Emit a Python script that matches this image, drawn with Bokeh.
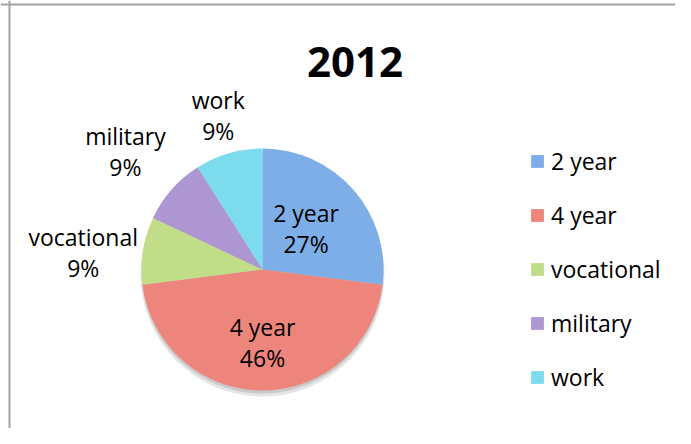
import numpy as np
from bokeh.plotting import figure
from bokeh.models import ColumnDataSource, Legend, LegendItem, Span
from bokeh.core.properties import value
from bokeh.embed import file_html
from bokeh.resources import INLINE

# ---- data ----
title_text = "2012"
categories = ["2 year", "4 year", "vocational", "military", "work"]
percents = [27, 46, 9, 9, 9]
pct_labels = ["27%", "46%", "9%", "9%", "9%"]
colors = ["#7eaee8", "#ee857c", "#c2dd88", "#ae96d2", "#7ddbee"]

# ---- layout / style ----
W, H = 675, 428
cx, cy, R = 262, 159, 121
label_r = [0.48, 0.60, 1.50, 1.51, 1.31]     # radial distance of labels (x R)
label_dy = [3, 0, -11, -3, 2]                 # small vertical nudges (px)
FONT = "Open Sans"
FS = "23px"

fr = np.array(percents, dtype=float) / sum(percents)
cum = np.concatenate([[0.0], np.cumsum(fr)])
start = np.pi / 2 - 2 * np.pi * cum[:-1]
end = np.pi / 2 - 2 * np.pi * cum[1:]
mid = (start + end) / 2
lr = np.array(label_r) * R
lx = cx + lr * np.cos(mid)
ly = cy + lr * np.sin(mid) + np.array(label_dy)

src = ColumnDataSource(dict(cat=categories, start=start, end=end, color=colors,
                            pct=pct_labels, lx=lx, ly_top=ly + 15.5, ly_bot=ly - 15.5))

p = figure(width=W, height=H, x_range=(0, W), y_range=(0, H),
           output_backend="svg", toolbar_location=None, min_border=0)
p.axis.visible = False
p.grid.visible = False
p.outline_line_color = None
p.background_fill_color = "white"

# chart border (left and top visible)
p.add_layout(Span(location=9, dimension="height", line_color="#a3a3a3", line_width=2))
p.add_layout(Span(location=H - 4, dimension="width", line_color="#a3a3a3", line_width=2))

# soft shadow
p.circle(x=[cx], y=[cy - 5], radius=R + 1, fill_color="#000000", fill_alpha=0.10, line_color=None)
p.circle(x=[cx], y=[cy - 3], radius=R, fill_color="#000000", fill_alpha=0.12, line_color=None)

wedges = p.wedge(x=cx, y=cy, radius=R, start_angle="start", end_angle="end",
                 direction="clock", fill_color="color", line_color=None, source=src)

p.text(x="lx", y="ly_top", text="cat", source=src, text_align="center",
       text_baseline="middle", text_font=value(FONT), text_font_size=FS, text_color="#000000")
p.text(x="lx", y="ly_bot", text="pct", source=src, text_align="center",
       text_baseline="middle", text_font=value(FONT), text_font_size=FS, text_color="#000000")

p.text(x=[354.5], y=[H - 61], text=[title_text], text_align="center", text_baseline="middle",
       text_font=value(FONT), text_font_style="bold", text_font_size="42px", text_color="#000000")

legend = Legend(items=[LegendItem(label=c, renderers=[wedges], index=i) for i, c in enumerate(categories)],
                location=(529, 35), orientation="vertical", spacing=22,
                glyph_width=16, glyph_height=16, label_standoff=6, padding=0, margin=0,
                border_line_color=None, background_fill_alpha=0,
                label_text_font=FONT, label_text_font_size=FS, label_text_color="#000000")
p.add_layout(legend)

open("out.html", "w").write(file_html(p, INLINE))
